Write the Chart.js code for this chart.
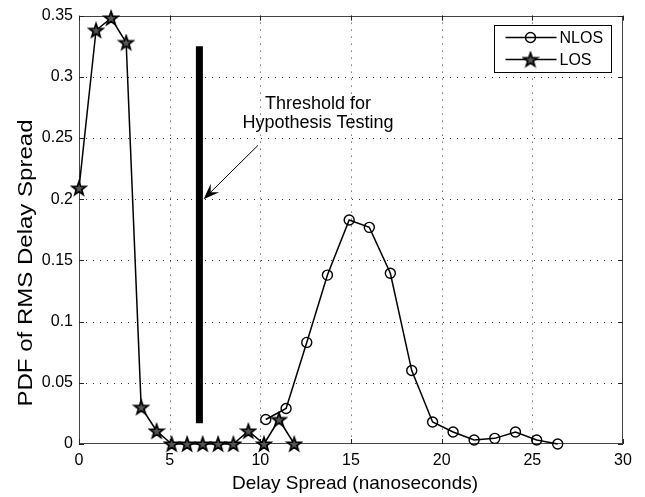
<!DOCTYPE html>
<html><head><meta charset="utf-8">
<script src="https://cdn.jsdelivr.net/npm/chart.js@4/dist/chart.umd.min.js"></script>
<style>html,body{margin:0;padding:0;background:#fff}#wrap{width:645px;height:497px}</style>
</head><body><div id="wrap"><canvas id="c" width="645" height="497"></canvas></div>
<script>
// ---- data ----
const nlosX = [10.3, 11.42, 12.56, 13.7, 14.9, 16.01, 17.17, 18.35, 19.5, 20.63, 21.79, 22.93, 24.07, 25.24, 26.4];
const nlosY = [0.020, 0.029, 0.083, 0.138, 0.183, 0.177, 0.1395, 0.060, 0.018, 0.0098, 0.0033, 0.0046, 0.0098, 0.0033, 0];
const losX = [0, 0.94, 1.77, 2.6, 3.43, 4.28, 5.11, 5.96, 6.82, 7.67, 8.51, 9.34, 10.2, 11.03, 11.87];
const losY = [0.209, 0.338, 0.348, 0.328, 0.030, 0.0106, 0, 0, 0, 0, 0, 0.0106, 0, 0.020, 0];
const xTicks = [0, 5, 10, 15, 20, 25, 30];
const yTicks = [0, 0.05, 0.1, 0.15, 0.2, 0.25, 0.3, 0.35];
const thresholdX = [6.64, 6.64];
const thresholdY = [0.017, 0.325];
const seriesNames = ['NLOS', 'LOS'];
const annotationLines = ['Threshold for', 'Hypothesis Testing'];
const annotationAt = [13.18, 0.274];      // text anchor (data units)
const arrowFrom = [9.87, 0.244];          // arrow tail (data units)
const arrowTo = [6.87, 0.2];              // arrow tip (data units)
const xTitle = 'Delay Spread (nanoseconds)';
const yTitle = 'PDF of RMS Delay Spread';

const FONT = '"Liberation Sans", Arial, Helvetica, sans-serif';

function starImage() {
  const s = 18, c = document.createElement('canvas');
  c.width = s; c.height = s;
  const g = c.getContext('2d');
  const R = 7.2, r = 2.9;
  g.beginPath();
  for (let i = 0; i < 10; i++) {
    const a = -Math.PI / 2 + i * Math.PI / 5;
    const rad = i % 2 ? r : R;
    g.lineTo(s / 2 + rad * Math.cos(a), s / 2 + 0.6 + rad * Math.sin(a));
  }
  g.closePath();
  g.fillStyle = '#555'; g.fill();
  g.lineWidth = 1.7; g.strokeStyle = '#000'; g.stroke();
  return c;
}
const star = starImage();

const pairs = (xs, ys) => xs.map((v, i) => ({x: v, y: ys[i]}));

const decor = {
  id: 'decor',
  beforeDatasetsDraw(chart) {
    const {ctx, chartArea: a, scales: {x, y}} = chart;
    ctx.save();
    // dotted grid
    ctx.strokeStyle = '#333'; ctx.lineWidth = 1; ctx.setLineDash([1, 6]);
    xTicks.forEach(v => {
      if (v === xTicks[0] || v === xTicks[xTicks.length - 1]) return;
      const px = Math.round(x.getPixelForValue(v)) + 0.5;
      ctx.beginPath(); ctx.moveTo(px, a.top); ctx.lineTo(px, a.bottom); ctx.stroke();
    });
    yTicks.forEach(v => {
      if (v === yTicks[0] || v === yTicks[yTicks.length - 1]) return;
      const py = Math.round(y.getPixelForValue(v)) + 0.5;
      ctx.beginPath(); ctx.moveTo(a.left, py); ctx.lineTo(a.right, py); ctx.stroke();
    });
    ctx.setLineDash([]);
    // frame
    ctx.strokeStyle = '#444';
    ctx.strokeRect(Math.round(a.left) + 0.5, Math.round(a.top) + 0.5,
      Math.round(a.right - a.left) - 1, Math.round(a.bottom - a.top) - 1);
    // inward ticks
    ctx.strokeStyle = '#222';
    const L = 5;
    xTicks.forEach(v => {
      const px = Math.round(x.getPixelForValue(v)) + 0.5;
      ctx.beginPath();
      ctx.moveTo(px, a.bottom); ctx.lineTo(px, a.bottom - L);
      ctx.moveTo(px, a.top); ctx.lineTo(px, a.top + L);
      ctx.stroke();
    });
    yTicks.forEach(v => {
      const py = Math.round(y.getPixelForValue(v)) + 0.5;
      ctx.beginPath();
      ctx.moveTo(a.left, py); ctx.lineTo(a.left + L, py);
      ctx.moveTo(a.right, py); ctx.lineTo(a.right - L, py);
      ctx.stroke();
    });
    ctx.restore();
  },
  afterDraw(chart) {
    const {ctx, chartArea: a, scales: {x, y}} = chart;
    ctx.save();
    ctx.fillStyle = '#000'; ctx.strokeStyle = '#000';
    // annotation text
    ctx.font = '18px ' + FONT;
    ctx.textAlign = 'center'; ctx.textBaseline = 'alphabetic';
    const tx = x.getPixelForValue(annotationAt[0]);
    const ty = y.getPixelForValue(annotationAt[1]);
    annotationLines.forEach((t, i) => ctx.fillText(t, tx, ty + i * 19.5));
    // arrow
    const x0 = x.getPixelForValue(arrowFrom[0]), y0 = y.getPixelForValue(arrowFrom[1]);
    const x1 = x.getPixelForValue(arrowTo[0]), y1 = y.getPixelForValue(arrowTo[1]);
    const ang = Math.atan2(y1 - y0, x1 - x0);
    const ux = Math.cos(ang), uy = Math.sin(ang), nx = -uy, ny = ux;
    ctx.lineWidth = 1;
    ctx.beginPath(); ctx.moveTo(x0, y0); ctx.lineTo(x1 - ux * 8, y1 - uy * 8); ctx.stroke();
    const hl = 16, hw = 6, notch = 10;
    ctx.beginPath();
    ctx.moveTo(x1, y1);
    ctx.lineTo(x1 - ux * hl + nx * hw, y1 - uy * hl + ny * hw);
    ctx.lineTo(x1 - ux * notch, y1 - uy * notch);
    ctx.lineTo(x1 - ux * hl - nx * hw, y1 - uy * hl - ny * hw);
    ctx.closePath(); ctx.fill();
    // axis titles
    ctx.font = '19px ' + FONT;
    ctx.textAlign = 'center'; ctx.textBaseline = 'alphabetic';
    ctx.fillText(xTitle, (a.left + a.right) / 2 + 4, 489);
    ctx.save();
    ctx.font = '21px ' + FONT;
    const w = ctx.measureText(yTitle).width;
    ctx.translate(32, 263);
    ctx.rotate(-Math.PI / 2);
    ctx.scale(287 / w, 1);
    ctx.fillText(yTitle, 0, 0);
    ctx.restore();
    // legend
    const bw = 117, bh = 47;
    const bx = Math.round(a.right) - 12 - bw + 0.5, by = Math.round(a.top) + 9 + 0.5;
    ctx.fillStyle = '#fff'; ctx.fillRect(bx, by, bw, bh);
    ctx.strokeStyle = '#000'; ctx.lineWidth = 1; ctx.strokeRect(bx, by, bw, bh);
    ctx.font = '16px ' + FONT; ctx.textAlign = 'left'; ctx.textBaseline = 'middle';
    seriesNames.forEach((name, i) => {
      const ly = by + 12 + i * 22;
      ctx.strokeStyle = '#000'; ctx.lineWidth = 1.5;
      ctx.beginPath(); ctx.moveTo(bx + 11, ly); ctx.lineTo(bx + 62, ly); ctx.stroke();
      const mx = bx + 36;
      if (i === 0) {
        ctx.lineWidth = 1.4;
        ctx.beginPath(); ctx.arc(mx, ly, 5, 0, Math.PI * 2); ctx.stroke();
      } else {
        ctx.drawImage(star, mx - star.width / 2, ly - star.height / 2);
      }
      ctx.fillStyle = '#000';
      ctx.fillText(name, bx + 65, ly + 1);
    });
    ctx.restore();
  }
};

new Chart(document.getElementById('c'), {
  type: 'scatter',
  data: {
    datasets: [
      {label: seriesNames[0], data: pairs(nlosX, nlosY), showLine: true, borderColor: '#000',
       borderWidth: 1.5, pointStyle: 'circle', pointRadius: 5, pointBorderWidth: 1.4,
       pointBorderColor: '#000', pointBackgroundColor: 'rgba(0,0,0,0)', clip: false},
      {label: seriesNames[1], data: pairs(losX, losY), showLine: true, borderColor: '#000',
       borderWidth: 1.5, pointStyle: star, pointRadius: 7, pointBorderColor: '#000',
       pointBackgroundColor: 'rgba(0,0,0,0)', clip: false},
      {label: 'threshold', data: pairs(thresholdX, thresholdY), showLine: true, borderColor: '#000',
       borderWidth: 7, borderCapStyle: 'butt', pointRadius: 0}
    ]
  },
  options: {
    responsive: false, animation: false, devicePixelRatio: 1,
    layout: {padding: {top: 15, right: 22, left: 0, bottom: 0}},
    plugins: {legend: {display: false}, tooltip: {enabled: false}},
    scales: {
      x: {
        type: 'linear', min: xTicks[0], max: xTicks[xTicks.length - 1],
        grid: {display: false, drawTicks: false}, border: {display: false},
        afterBuildTicks: s => { s.ticks = xTicks.map(v => ({value: v})); },
        afterFit: s => { s.height = 53; },
        ticks: {color: '#000', padding: 7, maxRotation: 0, font: {size: 16, family: FONT},
                callback: v => String(v)}
      },
      y: {
        type: 'linear', min: yTicks[0], max: yTicks[yTicks.length - 1],
        grid: {display: false, drawTicks: false}, border: {display: false},
        afterBuildTicks: s => { s.ticks = yTicks.map(v => ({value: v})); },
        afterFit: s => { s.width = 79; },
        ticks: {color: '#000', padding: 6, font: {size: 16, family: FONT},
                callback: v => String(+v.toFixed(2))}
      }
    }
  },
  plugins: [decor]
});
</script>
</body></html>
